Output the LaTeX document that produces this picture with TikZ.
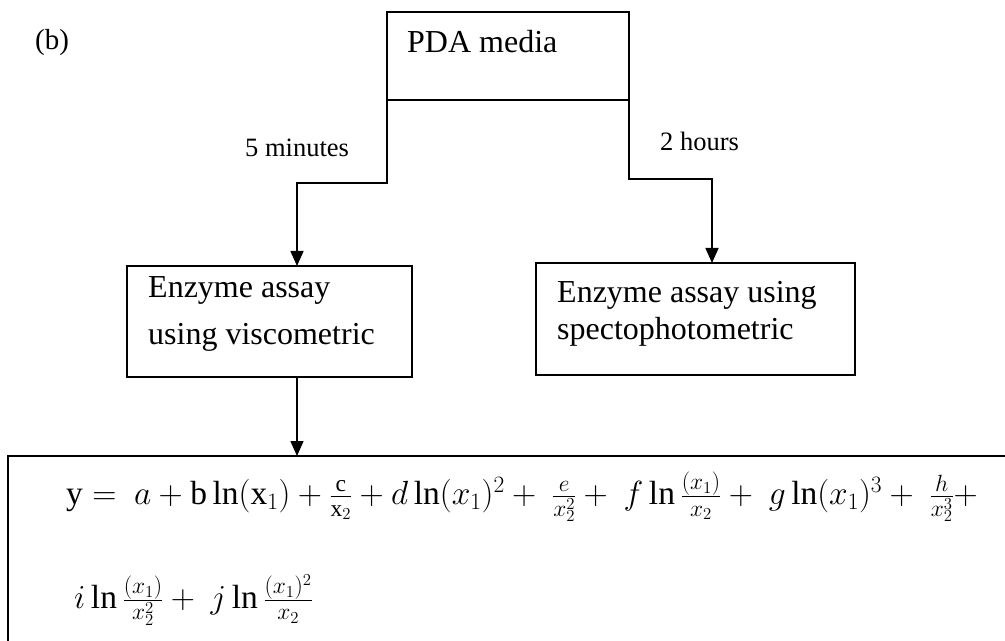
\RequirePackage{fix-cm}
\documentclass[tikz,border=0pt]{standalone}
\usepackage{fontspec}
\setmainfont{Liberation Serif}
\usetikzlibrary{arrows.meta}
\begin{document}
\begin{tikzpicture}[x=1bp,y=-1bp,
  box/.style={draw, line width=1.6bp, inner sep=0pt, outer sep=0pt},
  txt/.style={inner sep=0pt, anchor=base west, font=\fontsize{32bp}{38bp}\selectfont},
  lbl/.style={inner sep=0pt, anchor=base west, font=\fontsize{26.5bp}{32bp}\selectfont},
  eqn/.style={inner sep=0pt, anchor=west, font=\fontsize{33.5bp}{40bp}\selectfont},
  conn/.style={line width=1.6bp},
  arr/.style={conn, -{Triangle[width=13bp,length=15bp]}}]
\useasboundingbox (0,0) rectangle (1005,641);
\clip (0,0) rectangle (1005,641);

% panel tag
\node[inner sep=0pt, anchor=base west, font=\fontsize{29bp}{34bp}\selectfont] (tag) at (35,50) {(b)};

% source box
\node[box, minimum width=242bp, minimum height=88bp] (pda) at (508,56) {};
\node[txt] (pdatext) at (407,53) {PDA media};

% assay boxes
\node[box, minimum width=285bp, minimum height=111bp] (visc) at (269.5,321.5) {};
\node[txt] (visc1) at (148,298) {Enzyme assay};
\node[txt] (visc2) at (148,344) {using viscometric};

\node[box, minimum width=319bp, minimum height=112bp] (spec) at (695.5,319) {};
\node[txt] (spec1) at (557,302) {Enzyme assay using};
\node[txt] (spec2) at (557,339) {spectophotometric};

% model box, running past the page edge
\node[box, anchor=north west, minimum width=1100bp, minimum height=250bp] (eq) at (8,456) {};
\node[eqn] (eqa) at (66,497) {$\mathrm{y}=\ a + \mathrm{b}\ln(\mathrm{x}_1) + \frac{\mathrm{c}}{\mathrm{x}_2} + d\ln(x_1)^2 +\ \frac{e}{x_2^2} +\ f\ln\frac{(x_1)}{x_2} +\ g\ln(x_1)^3 +\ \frac{h}{x_2^3} +$};
\node[eqn] (eqb) at (74,600) {$i\ln\frac{(x_1)}{x_2^2} +\ j\ln\frac{(x_1)^2}{x_2}$};

% timing labels
\node[lbl] (tmin) at (245,157) {5 minutes};
\node[lbl] (thour) at (660,151) {2 hours};

% connectors
\coordinate (lb1) at (387,183);
\coordinate (lb2) at (297,183);
\draw[arr] (pda.south west) -- (lb1) -- (lb2) -- (lb2 |- visc.north);

\coordinate (rb1) at (629,179);
\coordinate (rb2) at (712,179);
\draw[arr] (pda.south east) -- (rb1) -- (rb2) -- (rb2 |- spec.north);

\coordinate (lb3) at (visc.south -| lb2);
\draw[arr] (lb3) -- (lb3 |- eq.north);
\end{tikzpicture}
\end{document}
